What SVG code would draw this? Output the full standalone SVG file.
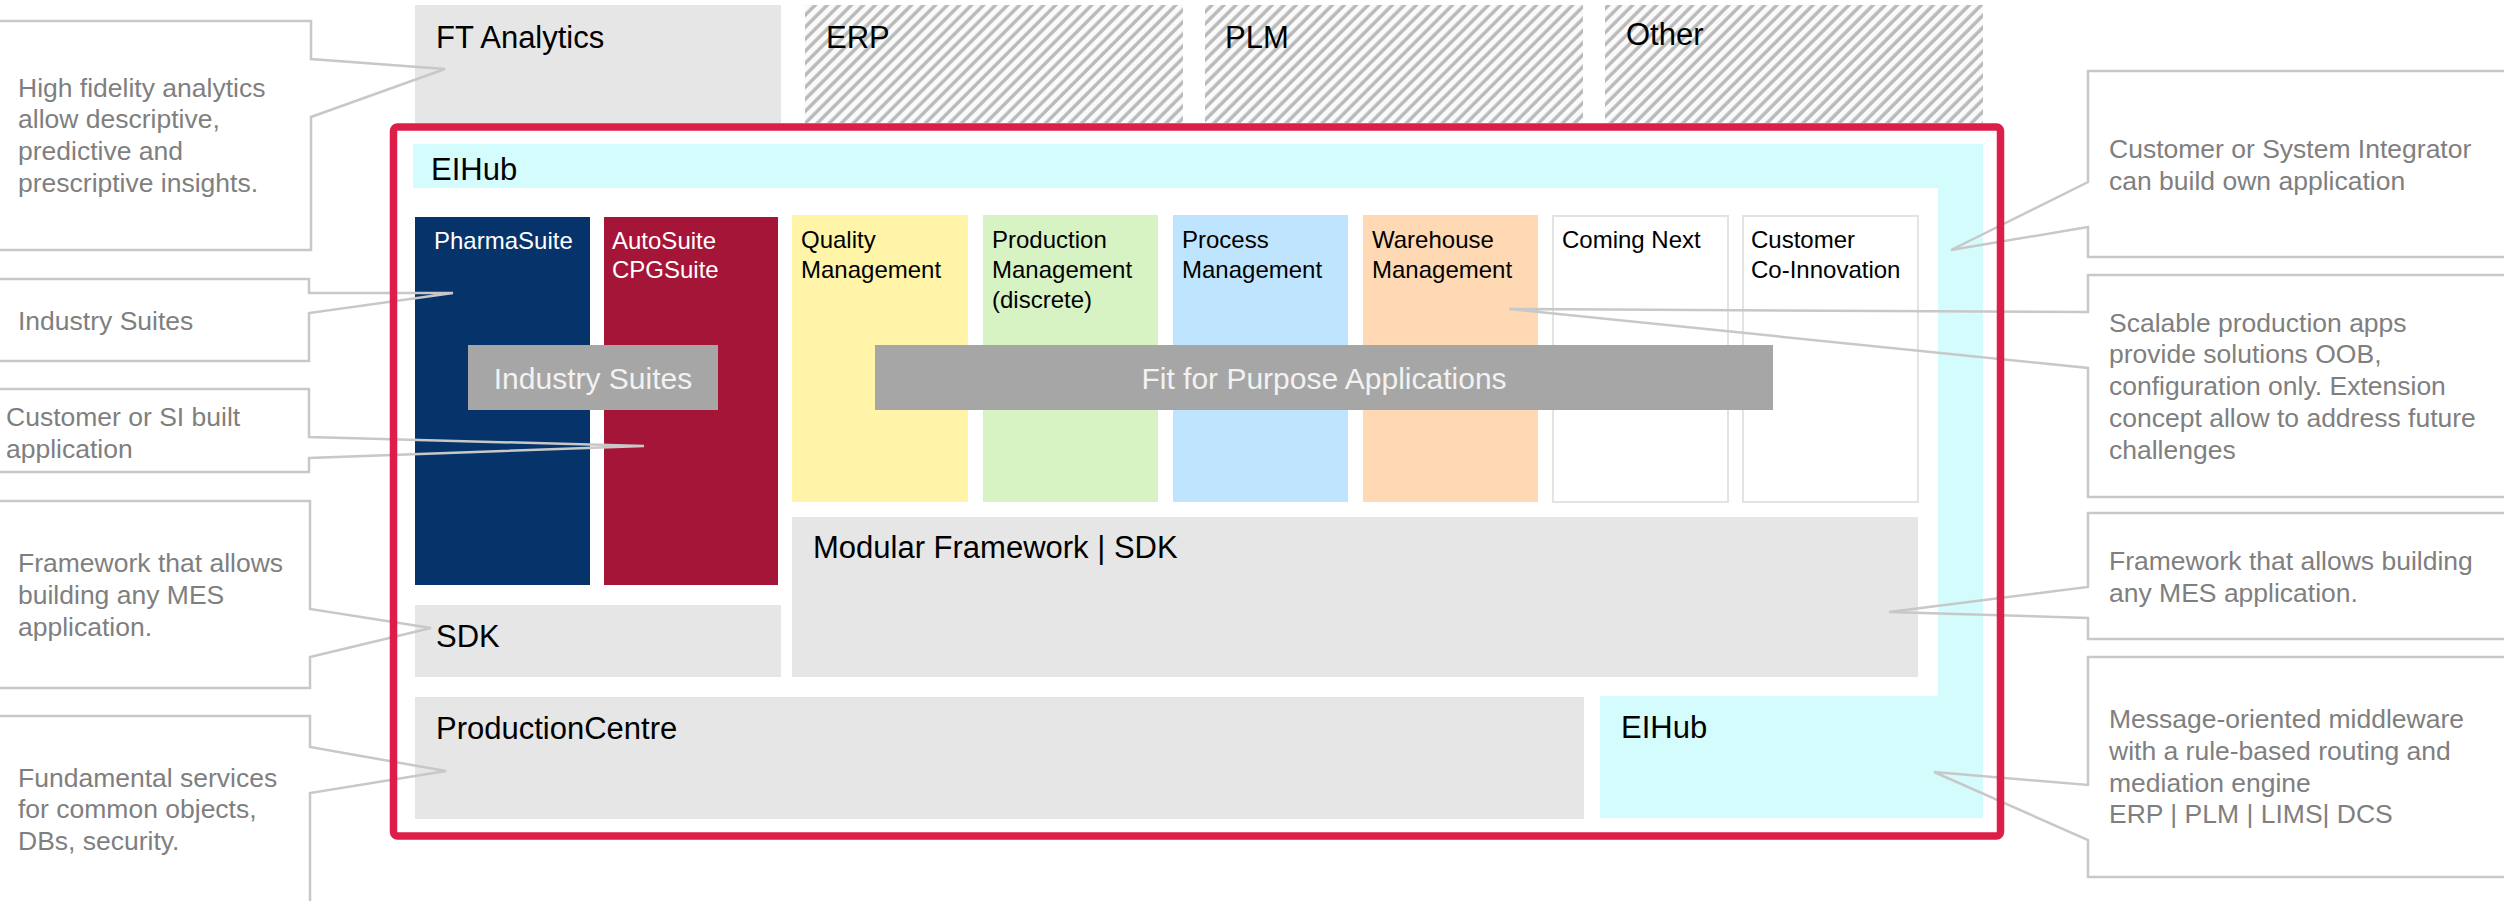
<svg xmlns="http://www.w3.org/2000/svg" width="2504" height="901" viewBox="0 0 2504 901">
<defs>
<pattern id="hatch" patternUnits="userSpaceOnUse" width="8.5" height="8.5" patternTransform="rotate(45)">
<rect width="8.5" height="8.5" fill="#fafafa"/>
<line x1="2" y1="-1" x2="2" y2="10" stroke="#b9b9b9" stroke-width="3.4"/>
</pattern>
</defs>
<style>
text{font-family:"Liberation Sans",Arial,sans-serif}
.big{font-size:31px;fill:#000}
.sm{font-size:24px;fill:#000}
.wt{font-size:24px;fill:#fff}
.ov{font-size:30px;fill:#f2f2f2;text-anchor:middle}
.note{font-size:26.5px;fill:#7f7f7f}
.gray{fill:#e6e6e6}
.hat{fill:url(#hatch)}
.app{stroke:#e3e3e3;stroke-width:2;fill:#fff}
.call{fill:none;stroke:#c8c8c8;stroke-width:2.5}
</style>
<rect width="2504" height="901" fill="#fff"/>

<g id="ft-analytics"><rect class="gray" x="415" y="5" width="366" height="118"/><text class="big" x="436" y="48">FT Analytics</text></g>
<g id="erp"><rect class="hat" x="805" y="5" width="378" height="118"/><text class="big" x="826" y="48">ERP</text></g>
<g id="plm"><rect class="hat" x="1205" y="5" width="378" height="118"/><text class="big" x="1225" y="48">PLM</text></g>
<g id="other"><rect class="hat" x="1605" y="5" width="378" height="118"/><text class="big" x="1626" y="45">Other</text></g>

<g id="eihub"><path d="M413,144 H1983 V818 H1600 V696 H1938 V188 H413 Z" fill="#d4fcfc"/><text class="big" x="431" y="180">EIHub</text><text class="big" x="1621" y="738">EIHub</text></g>

<g id="pharmasuite"><rect x="415" y="217" width="175" height="368" fill="#06336a"/><text class="wt" x="434" y="249">PharmaSuite</text></g>
<g id="autosuite"><rect x="604" y="217" width="174" height="368" fill="#a51538"/><text class="wt" x="612" y="249">AutoSuite</text><text class="wt" x="612" y="278">CPGSuite</text></g>

<g id="quality"><rect x="792" y="215" width="176" height="287" fill="#fff4a8"/><text class="sm" x="801" y="248">Quality</text><text class="sm" x="801" y="278">Management</text></g>
<g id="production"><rect x="983" y="215" width="175" height="287" fill="#d7f3c4"/><text class="sm" x="992" y="248">Production</text><text class="sm" x="992" y="278">Management</text><text class="sm" x="992" y="308">(discrete)</text></g>
<g id="process"><rect x="1173" y="215" width="175" height="287" fill="#bee5fd"/><text class="sm" x="1182" y="248">Process</text><text class="sm" x="1182" y="278">Management</text></g>
<g id="warehouse"><rect x="1363" y="215" width="175" height="287" fill="#fed9b3"/><text class="sm" x="1372" y="248">Warehouse</text><text class="sm" x="1372" y="278">Management</text></g>
<g id="coming-next"><rect class="app" x="1553" y="216" width="175" height="286"/><text class="sm" x="1562" y="248">Coming Next</text></g>
<g id="co-innovation"><rect class="app" x="1743" y="216" width="175" height="286"/><text class="sm" x="1751" y="248">Customer</text><text class="sm" x="1751" y="278">Co-Innovation</text></g>

<g id="modular-framework"><rect class="gray" x="792" y="517" width="1126" height="160"/><text class="big" x="813" y="558">Modular Framework | SDK</text></g>
<g id="sdk"><rect class="gray" x="415" y="605" width="366" height="72"/><text class="big" x="436" y="647">SDK</text></g>
<g id="productioncentre"><rect class="gray" x="415" y="697" width="1169" height="122"/><text class="big" x="436" y="739">ProductionCentre</text></g>

<g id="industry-suites-label"><rect x="468" y="345" width="250" height="65" fill="#a6a6a6"/><text class="ov" x="593" y="389">Industry Suites</text></g>
<g id="fit-for-purpose"><rect x="875" y="345" width="898" height="65" fill="#a6a6a6"/><text class="ov" x="1324" y="389">Fit for Purpose Applications</text></g>

<g id="connectors">
<path class="call" d="M-5,21 H311 V59 L445,69 L311,117 V250 H-5"/>
<path class="call" d="M-5,279 H309 V293 L453,293 L309,313 V361 H-5"/>
<path class="call" d="M-5,389 H309 V437 L644,446 L309,458 V472 H-5"/>
<path class="call" d="M-5,501 H310 V609 L431,628 L310,657 V688 H-5"/>
<path class="call" d="M-5,716 H310 V747 L446,771 L310,793 V910"/>
<path class="call" d="M2510,71 H2088 V182 L1951,250 L2088,227 V257 H2510"/>
<path class="call" d="M2510,275 H2088 V312 L1509,309 L2088,368 V497 H2510"/>
<path class="call" d="M2510,513 H2088 V587 L1889,612 L2088,618 V639 H2510"/>
<path class="call" d="M2510,657 H2088 V785 L1934,772 L2088,840 V877 H2510"/>
</g>

<g id="mes-frame"><rect x="393.5" y="127" width="1607" height="709" rx="4" fill="none" stroke="#dc1e48" stroke-width="7.5"/></g>

<g id="note-analytics"><text class="note" x="18" y="97">High fidelity analytics</text><text class="note" x="18" y="128">allow descriptive,</text><text class="note" x="18" y="160">predictive and</text><text class="note" x="18" y="192">prescriptive insights.</text></g>
<g id="note-suites"><text class="note" x="18" y="330">Industry Suites</text></g>
<g id="note-si"><text class="note" x="6" y="426">Customer or SI built</text><text class="note" x="6" y="458">application</text></g>
<g id="note-sdk"><text class="note" x="18" y="572">Framework that allows</text><text class="note" x="18" y="604">building any MES</text><text class="note" x="18" y="636">application.</text></g>
<g id="note-pc"><text class="note" x="18" y="787">Fundamental services</text><text class="note" x="18" y="818">for common objects,</text><text class="note" x="18" y="850">DBs, security.</text></g>
<g id="note-custom"><text class="note" x="2109" y="158">Customer or System Integrator</text><text class="note" x="2109" y="190">can build own application</text></g>
<g id="note-apps"><text class="note" x="2109" y="332">Scalable production apps</text><text class="note" x="2109" y="363">provide solutions OOB,</text><text class="note" x="2109" y="395">configuration only. Extension</text><text class="note" x="2109" y="427">concept allow to address future</text><text class="note" x="2109" y="459">challenges</text></g>
<g id="note-framework"><text class="note" x="2109" y="570">Framework that allows building</text><text class="note" x="2109" y="602">any MES application.</text></g>
<g id="note-eihub"><text class="note" x="2109" y="728">Message-oriented middleware</text><text class="note" x="2109" y="760">with a rule-based routing and</text><text class="note" x="2109" y="792">mediation engine</text><text class="note" x="2109" y="823">ERP | PLM | LIMS| DCS</text></g>
</svg>
